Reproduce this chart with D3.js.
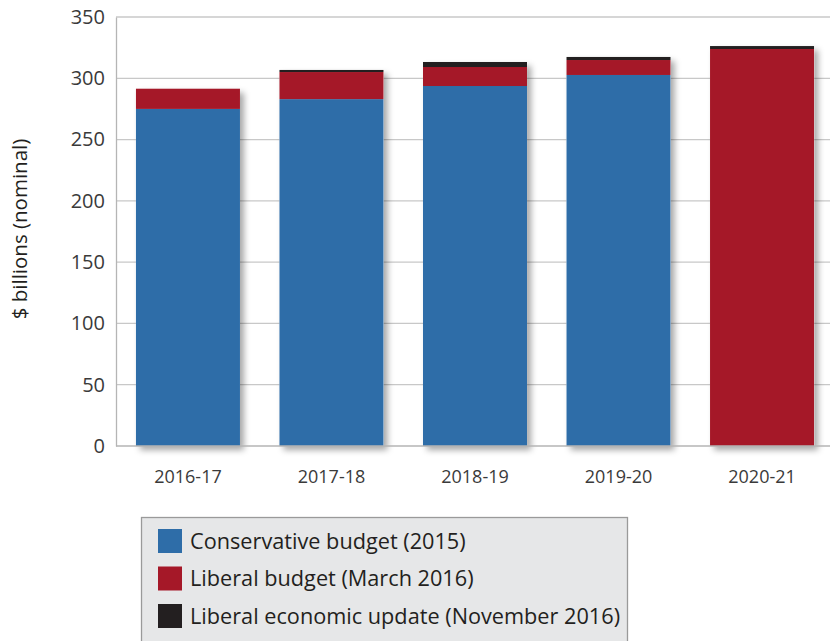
<!DOCTYPE html>
<html><head><meta charset="utf-8">
<script src="https://cdn.jsdelivr.net/npm/d3@7"></script>
<style>body{margin:0;background:#fff;} text{font-family:"Open Sans",sans-serif;}</style>
</head><body>
<svg id="chart" width="830" height="641"></svg>
<script>
const categories = ["2016-17","2017-18","2018-19","2019-20","2020-21"];
const conservative = [275, 283, 293.7, 302.7, 0];
const liberalBudget = [16.5, 22.1, 15.5, 12.2, 323.9];
const liberalUpdate = [0, 1.7, 4.1, 2.5, 2.4];
const yTicks = [0,50,100,150,200,250,300,350];
const seriesNames = ["Conservative budget (2015)","Liberal budget (March 2016)","Liberal economic update (November 2016)"];
const colors = ["#2e6da8","#a51828","#231f20"];

const svg = d3.select("#chart");
const x = d3.scaleBand().domain(categories).range([116, 834]).paddingInner(0.2753).paddingOuter(0.139);
const y = d3.scaleLinear().domain([0, 350]).range([446, 17]);

const defs = svg.append("defs");
const f = defs.append("filter").attr("id","shadow").attr("x","-10%").attr("y","-10%").attr("width","130%").attr("height","130%");
f.append("feDropShadow").attr("dx",4).attr("dy",4).attr("stdDeviation",3).attr("flood-color","#000").attr("flood-opacity",0.35);

// gridlines
svg.append("g").selectAll("line").data(yTicks.filter(d=>d>0)).join("line")
  .attr("x1",116).attr("x2",830).attr("y1",d=>y(d)).attr("y2",d=>y(d))
  .attr("stroke","#c8c8c8").attr("stroke-width",1.3);

const yAxis = svg.append("g").attr("transform","translate(116,0)")
  .call(d3.axisLeft(y).tickValues(yTicks).tickSize(0).tickPadding(11));
yAxis.select(".domain").attr("stroke","#b5b5b5").attr("stroke-width",1.3);
yAxis.selectAll("text").attr("font-size",20).attr("fill","#3a3a3a").attr("font-family","Open Sans");

// stacked data
const rows = categories.map((c,i)=>({cat:c, s0:conservative[i], s1:liberalBudget[i], s2:liberalUpdate[i]}));
const stack = d3.stack().keys(["s0","s1","s2"])(rows);

// shadows under whole bar
const totals = rows.map(r=>r.s0+r.s1+r.s2);
svg.append("g").selectAll("rect").data(rows).join("rect")
  .attr("x",d=>x(d.cat)).attr("width",x.bandwidth())
  .attr("y",(d,i)=>y(totals[i])).attr("height",(d,i)=>y(0)-y(totals[i]))
  .attr("fill","#fff").attr("filter","url(#shadow)");

const g = svg.append("g");
stack.forEach((layer,k)=>{
  g.append("g").attr("fill",colors[k]).selectAll("rect").data(layer).join("rect")
    .attr("x",d=>x(d.data.cat)).attr("width",x.bandwidth())
    .attr("y",d=>y(d[1])).attr("height",d=>Math.max(0,y(d[0])-y(d[1])));
});

// bottom axis
const xAxis = svg.append("g").attr("transform","translate(0,446)")
  .call(d3.axisBottom(x).tickSize(0).tickPadding(24));
xAxis.select(".domain").attr("stroke","#b5b5b5").attr("stroke-width",1.3).attr("d","M116,0H830");
xAxis.selectAll("text").attr("font-size",18).attr("fill","#3a3a3a").attr("font-family","Open Sans");

svg.append("text").attr("transform","translate(27,229) rotate(-90)")
  .attr("text-anchor","middle").attr("font-size",20.5).attr("fill","#231f20")
  .text("$ billions (nominal)");

// legend
const lg = svg.append("g");
lg.append("rect").attr("x",141.5).attr("y",517.5).attr("width",486).attr("height",125)
  .attr("fill","#e6e7e8").attr("stroke","#9a9a9a").attr("stroke-width",1.3);
const ly = d3.scalePoint().domain(seriesNames).range([541,616]);
seriesNames.forEach((n,i)=>{
  lg.append("rect").attr("x",158).attr("y",ly(n)-12).attr("width",24).attr("height",24).attr("fill",colors[i]);
  lg.append("text").attr("x",190).attr("y",ly(n)).attr("dy","0.35em")
    .attr("font-size",21.7).attr("fill","#231f20").text(n);
});
</script>
</body></html>
